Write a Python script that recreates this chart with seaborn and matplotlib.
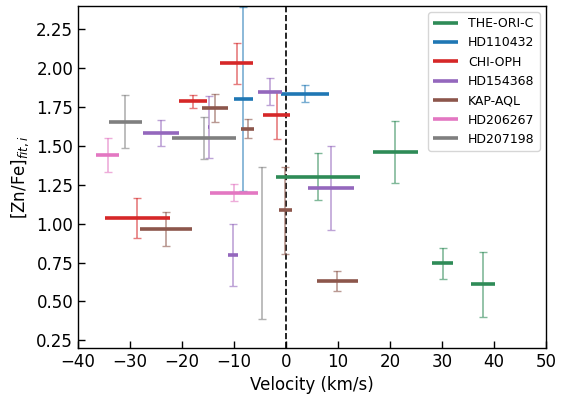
import numpy as np
import pandas as pd
import matplotlib
matplotlib.use("Agg")
import matplotlib.pyplot as plt
import seaborn as sns

stars = ["THE-ORI-C", "HD110432", "CHI-OPH", "HD154368", "KAP-AQL", "HD206267", "HD207198"]
colors = ["seagreen", "tab:blue", "tab:red", "tab:purple", "tab:brown", "tab:pink", "tab:gray"]

# velocity centre, velocity half-width, [Zn/Fe], error
the_ori_c_v = [6.15, 21.0, 30.1, 37.9]
the_ori_c_hw = [8.05, 4.3, 2.0, 2.35]
the_ori_c_y = [1.303, 1.462, 0.745, 0.609]
the_ori_c_e = [0.15, 0.20, 0.10, 0.21]

hd110432_v = [-8.2, 3.65]
hd110432_hw = [1.85, 4.55]
hd110432_y = [1.801, 1.835]
hd110432_e = [0.59, 0.055]

chi_oph_v = [-28.6, -17.95, -9.5, -1.8]
chi_oph_hw = [6.25, 2.7, 3.1, 2.6]
chi_oph_y = [1.036, 1.786, 2.032, 1.699]
chi_oph_e = [0.126, 0.04, 0.133, 0.155]

hd154368_v = [-24.1, -14.9, -10.2, -3.1, 8.65]
hd154368_hw = [3.45, 0.05, 1.0, 2.35, 4.45]
hd154368_y = [1.583, 1.622, 0.799, 1.850, 1.228]
hd154368_e = [0.085, 0.20, 0.20, 0.085, 0.27]

kap_aql_v = [-23.1, -13.6, -7.4, -0.13, 9.9]
kap_aql_hw = [5.0, 2.5, 1.25, 1.3, 4.0]
kap_aql_y = [0.963, 1.744, 1.609, 1.087, 0.632]
kap_aql_e = [0.11, 0.087, 0.061, 0.28, 0.064]

hd206267_v = [-34.3, -10.0]
hd206267_hw = [2.2, 4.65]
hd206267_y = [1.442, 1.199]
hd206267_e = [0.11, 0.053]

hd207198_v = [-30.9, -15.8, -4.6]
hd207198_hw = [3.2, 6.1, 0.05]
hd207198_y = [1.656, 1.551, 0.877]
hd207198_e = [0.17, 0.135, 0.49]

data = {
    "THE-ORI-C": (the_ori_c_v, the_ori_c_hw, the_ori_c_y, the_ori_c_e),
    "HD110432": (hd110432_v, hd110432_hw, hd110432_y, hd110432_e),
    "CHI-OPH": (chi_oph_v, chi_oph_hw, chi_oph_y, chi_oph_e),
    "HD154368": (hd154368_v, hd154368_hw, hd154368_y, hd154368_e),
    "KAP-AQL": (kap_aql_v, kap_aql_hw, kap_aql_y, kap_aql_e),
    "HD206267": (hd206267_v, hd206267_hw, hd206267_y, hd206267_e),
    "HD207198": (hd207198_v, hd207198_hw, hd207198_y, hd207198_e),
}

sns.set_style("white")
plt.rcParams["font.family"] = ["DejaVu Sans"]
plt.rcParams["mathtext.fontset"] = "dejavusans"
plt.rcParams["lines.solid_capstyle"] = "butt"
plt.rcParams["text.color"] = "black"
plt.rcParams["axes.labelcolor"] = "black"
plt.rcParams["xtick.color"] = "black"
plt.rcParams["ytick.color"] = "black"

fig = plt.figure(figsize=(5.71, 3.96), dpi=100)
ax = fig.add_axes([78 / 571, 1 - 348 / 396, (546 - 78) / 571, (348 - 6) / 396])

rows = []
seg = 0
for s in stars:
    v, hw, y, e = data[s]
    for vi, hi, yi in zip(v, hw, y):
        rows.append({"star": s, "seg": seg, "vel": vi - hi, "val": yi})
        rows.append({"star": s, "seg": seg, "vel": vi + hi, "val": yi})
        seg += 1
df = pd.DataFrame(rows)
palette = dict(zip(stars, colors))

for s in stars:
    v, hw, y, e = data[s]
    ax.errorbar(v, y, yerr=e, fmt="none", ecolor=palette[s], elinewidth=1.2,
                capsize=3, capthick=1.0, alpha=0.6, zorder=2)

sns.lineplot(data=df, x="vel", y="val", hue="star", units="seg", estimator=None,
             palette=palette, hue_order=stars, lw=2.6, ax=ax, zorder=3, sort=False)

ax.axvline(0, color="black", ls="--", lw=1.2, zorder=1)

ax.set_xlim(-40, 50)
ax.set_ylim(0.2, 2.4)
ax.set_xticks(np.arange(-40, 51, 10))
ax.set_yticks([0.25, 0.5, 0.75, 1.0, 1.25, 1.5, 1.75, 2.0, 2.25])
ax.tick_params(direction="in", labelsize=12, length=5, width=1,
               bottom=True, left=True, colors="black")
for sp in ax.spines.values():
    sp.set_color("black")
    sp.set_linewidth(1.0)

ax.set_xlabel("Velocity (km/s)", fontsize=12, color="black")
ax.set_ylabel(r"[Zn/Fe]$_{fit,i}$", fontsize=12, color="black")

leg = ax.legend(loc="upper right", fontsize=9, frameon=True, handlelength=2.0,
                title=None)
for line in leg.get_lines():
    line.set_linewidth(2.6)
for t in leg.get_texts():
    t.set_color("black")

fig.savefig("out.png", dpi=100)
